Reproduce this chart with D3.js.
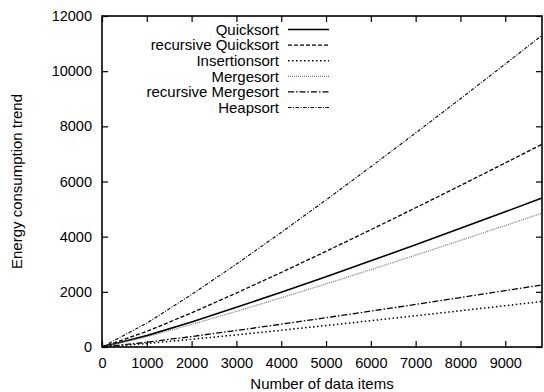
<!DOCTYPE html>
<html lang="en">
<head>
<meta charset="UTF-8">
<title>Energy consumption trend</title>
<style>
  body { margin: 0; background: #fff; }
  svg text { font-family: "Liberation Sans", Arial, sans-serif; fill: #000; }
</style>
</head>
<body>
<div id="chart"></div>
<script src="https://d3js.org/d3.v7.min.js"></script>
<script>
// data
const items = [0, 1000, 2000, 3000, 4000, 5000, 6000, 7000, 8000, 9000, 9820];
const quicksort = [0, 413, 909, 1437, 1985, 2547, 3123, 3708, 4301, 4902, 5400];
const recQuicksort = [0, 563, 1238, 1956, 2701, 3468, 4251, 5047, 5854, 6673, 7350];
const insertionsort = [0, 126, 278, 439, 606, 778, 954, 1133, 1314, 1498, 1650];
const mergesort = [0, 371, 817, 1290, 1783, 2288, 2805, 3330, 3863, 4403, 4850];
const recMergesort = [0, 172, 379, 599, 827, 1061, 1301, 1545, 1792, 2043, 2250];
const heapsort = [0, 865, 1903, 3007, 4153, 5331, 6535, 7759, 9001, 10259, 11300];
const names = ["Quicksort", "recursive Quicksort", "Insertionsort", "Mergesort", "recursive Mergesort", "Heapsort"];
const xTicks = [0, 1000, 2000, 3000, 4000, 5000, 6000, 7000, 8000, 9000];
const yTicks = [0, 2000, 4000, 6000, 8000, 10000, 12000];

const series = [quicksort, recQuicksort, insertionsort, mergesort, recMergesort, heapsort];
// line look per series (gnuplot style)
const styles = [
  { dash: null, color: "#000", w: 1.6 },
  { dash: "4,2", color: "#000", w: 1.3 },
  { dash: "1.5,2.5", color: "#000", w: 1.5 },
  { dash: "1,1", color: "#777", w: 1.2 },
  { dash: "6,2,1.5,2", color: "#000", w: 1.3 },
  { dash: "3.5,1.5,1,1.5", color: "#000", w: 1.1 }
];

const W = 544, H = 392;
const m = { left: 102, right: 2, top: 16, bottom: 45 };
const fmt = d3.format("d");

const svg = d3.select("#chart").append("svg")
  .attr("width", W).attr("height", H);

const x = d3.scaleLinear().domain([0, 9820]).range([m.left, W - m.right]);
const y = d3.scaleLinear().domain([0, 12000]).range([H - m.bottom, m.top]);

// axes: ticks inward, mirrored on top and right
svg.append("g")
  .attr("transform", `translate(0,${H - m.bottom})`)
  .call(d3.axisBottom(x).tickValues(xTicks).tickFormat(fmt).tickSizeInner(-6).tickSizeOuter(0).tickPadding(11))
  .call(g => g.select(".domain").remove());
svg.append("g")
  .attr("transform", `translate(0,${m.top})`)
  .call(d3.axisTop(x).tickValues(xTicks).tickSizeInner(-6).tickSizeOuter(0).tickFormat(""))
  .call(g => g.select(".domain").remove());
svg.append("g")
  .attr("transform", `translate(${m.left},0)`)
  .call(d3.axisLeft(y).tickValues(yTicks).tickFormat(fmt).tickSizeInner(-6).tickSizeOuter(0).tickPadding(10))
  .call(g => g.select(".domain").remove());
svg.append("g")
  .attr("transform", `translate(${W - m.right},0)`)
  .call(d3.axisRight(y).tickValues(yTicks).tickSizeInner(-6).tickSizeOuter(0).tickFormat(""))
  .call(g => g.select(".domain").remove());

svg.selectAll(".tick line").attr("stroke", "#000").attr("stroke-width", 1.2);
svg.selectAll("g").attr("font-family", null).attr("font-size", null);
svg.selectAll(".tick text").attr("font-size", 14.5);

// frame
svg.append("rect")
  .attr("x", m.left).attr("y", m.top)
  .attr("width", W - m.right - m.left).attr("height", H - m.bottom - m.top)
  .attr("fill", "none").attr("stroke", "#000").attr("stroke-width", 1.6);

// lines
const line = d3.line().x((d, i) => x(items[i])).y(d => y(d));
svg.append("g").selectAll("path")
  .data(series)
  .join("path")
  .attr("d", line)
  .attr("fill", "none")
  .attr("stroke", (d, i) => styles[i].color)
  .attr("stroke-width", (d, i) => styles[i].w)
  .attr("stroke-dasharray", (d, i) => styles[i].dash);

// legend
const leg = svg.append("g");
names.forEach((n, i) => {
  const ly = 29.5 + i * 15.6;
  leg.append("text")
    .attr("x", 279).attr("y", ly).attr("dy", "0.35em")
    .attr("text-anchor", "end").attr("font-size", 15)
    .text(n);
  leg.append("line")
    .attr("x1", 288).attr("x2", 329).attr("y1", ly).attr("y2", ly)
    .attr("stroke", styles[i].color)
    .attr("stroke-width", styles[i].w)
    .attr("stroke-dasharray", styles[i].dash);
});

// axis titles
svg.append("text")
  .attr("x", (m.left + W - m.right) / 2).attr("y", 389)
  .attr("text-anchor", "middle").attr("font-size", 15)
  .text("Number of data items");
svg.append("text")
  .attr("transform", `translate(17,${(m.top + H - m.bottom) / 2}) rotate(-90)`)
  .attr("dy", "0.35em")
  .attr("text-anchor", "middle").attr("font-size", 15)
  .text("Energy consumption trend");
</script>
</body>
</html>
